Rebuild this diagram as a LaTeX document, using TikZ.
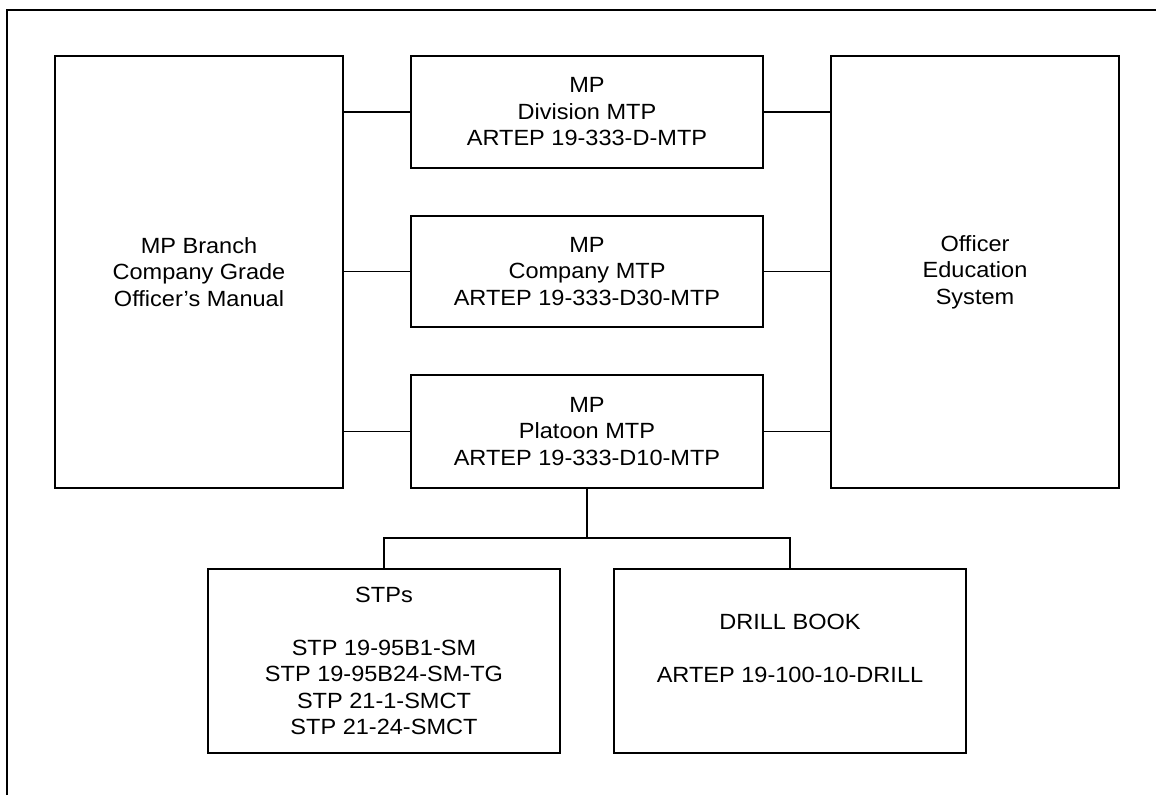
\documentclass[tikz,border=0pt]{standalone}
\usepackage{fontspec}
\setmainfont{Liberation Sans}[FakeStretch=1.07]
\begin{document}
\begin{tikzpicture}[x=1pt,y=-1pt,
  box/.style={draw=black, line width=1.3pt, inner sep=0pt, align=center,
    font=\fontsize{22}{26.5}\selectfont},
  bigbox/.style={box, minimum width=288pt, minimum height=432pt},
  midbox/.style={box, minimum width=352pt},
  txt/.style={inner sep=0pt, align=center, font=\fontsize{22}{26.5}\selectfont},
  conn/.style={line width=1.3pt},
  frame/.style={line width=2pt}]
\useasboundingbox (0,0) rectangle (1156,795);
\draw[frame] (7,795) -- (7,10) -- (1156,10);

\node[bigbox] (left) at (199,272) {MP Branch\\Company Grade\\Officer's Manual};
\node[bigbox] (right) at (975,272) {Officer\\Education\\System};
\node[midbox, minimum height=112pt] (div) at (587,112) {MP\\Division MTP\\ARTEP 19-333-D-MTP};
\node[midbox, minimum height=111pt] (comp) at (587,271.5) {MP\\Company MTP\\ARTEP 19-333-D30-MTP};
\node[midbox, minimum height=113pt] (plat) at (587,431.5) {MP\\Platoon MTP\\ARTEP 19-333-D10-MTP};
\node[midbox, minimum height=184pt] (stps) at (384,661) {STPs\\[26.5pt]STP 19-95B1-SM\\STP 19-95B24-SM-TG\\STP 21-1-SMCT\\STP 21-24-SMCT};
\node[midbox, minimum height=184pt] (drill) at (790,661) {};
\node[txt] (drilltxt) at (790,648.5) {DRILL BOOK\\[26.5pt]ARTEP 19-100-10-DRILL};

\foreach \m in {div,comp,plat}{
  \draw[conn] (left.east |- \m.west) -- (\m.west);
  \draw[conn] (\m.east) -- (right.west |- \m.east);
}
\coordinate (j) at (587,538);
\draw[conn] (plat.south) -- (j);
\draw[conn] (stps.north) |- (j) -| (drill.north);
\end{tikzpicture}
\end{document}
